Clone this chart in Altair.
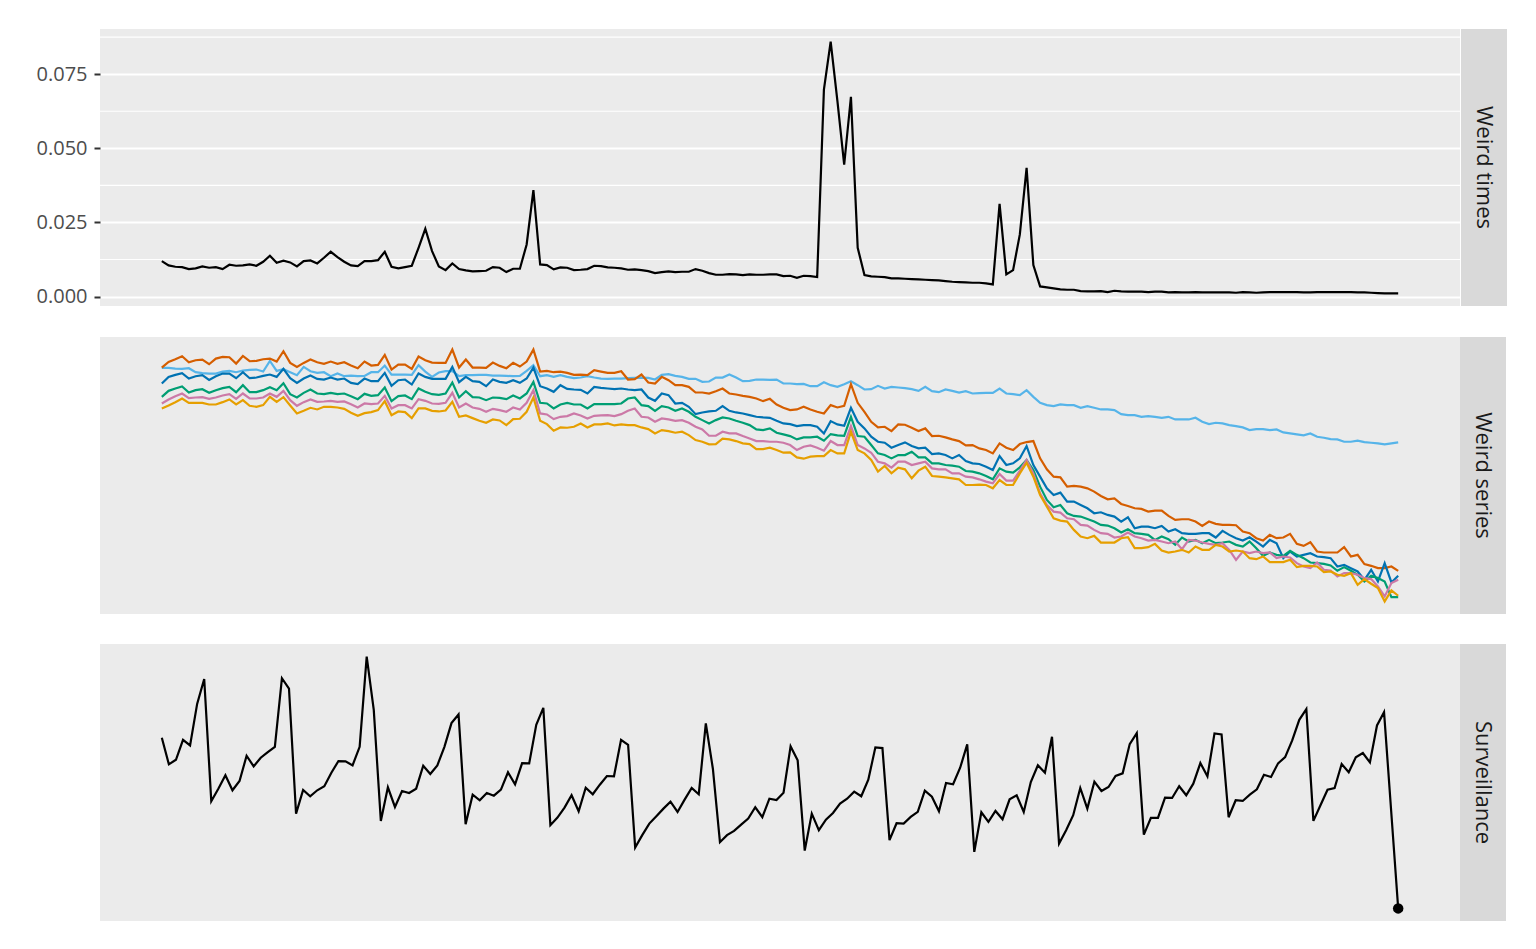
import altair as alt
import pandas as pd

panel_labels = ["Weird times", "Weird series", "Surveillance"]

# ---- Panel 1: weird times (184 points) ----
weird_times = [
    0.01197, 0.01051, 0.01006, 0.00995, 0.00927, 0.00950, 0.01017, 0.00972, 0.00995, 0.00927,
    0.01073, 0.01040, 0.01051, 0.01084, 0.01040, 0.01174, 0.01376, 0.01141, 0.01208, 0.01152,
    0.01017, 0.01197, 0.01219, 0.01118, 0.01309, 0.01511, 0.01331, 0.01174, 0.01051, 0.01028,
    0.01197, 0.01197, 0.01230, 0.01511, 0.01006, 0.00950, 0.00995, 0.01040, 0.01646, 0.02286,
    0.01534, 0.01017, 0.00893, 0.01118, 0.00927, 0.00882, 0.00849, 0.00860, 0.00871, 0.00995,
    0.00972, 0.00826, 0.00938, 0.00938, 0.01758, 0.03589, 0.01084, 0.01062, 0.00916, 0.00983,
    0.00972, 0.00893, 0.00905,
    0.00927, 0.01040, 0.01028, 0.00983, 0.00972, 0.00950, 0.00905, 0.00916, 0.00893, 0.00860,
    0.00792, 0.00826, 0.00849, 0.00826, 0.00837, 0.00837, 0.00927, 0.00871, 0.00792, 0.00736,
    0.00736, 0.00759, 0.00747, 0.00725, 0.00747, 0.00736, 0.00736, 0.00747, 0.00747, 0.00691,
    0.00703, 0.00635, 0.00703, 0.00691, 0.00658, 0.06980, 0.08600, 0.06590, 0.04450, 0.06740,
    0.01646, 0.00725, 0.00680, 0.00669, 0.00658, 0.00613, 0.00613, 0.00601, 0.00590, 0.00579,
    0.00568, 0.00557, 0.00545, 0.00523, 0.00500, 0.00489, 0.00478, 0.00467, 0.00467, 0.00444,
    0.00411, 0.03128,
    0.00747, 0.00893, 0.02095, 0.04341, 0.01062, 0.00343, 0.00310, 0.00276, 0.00242, 0.00231,
    0.00231, 0.00186, 0.00175, 0.00175, 0.00186, 0.00152, 0.00197, 0.00175, 0.00164, 0.00164,
    0.00164, 0.00152, 0.00164, 0.00164, 0.00141, 0.00152, 0.00141, 0.00141, 0.00152, 0.00141,
    0.00141, 0.00141, 0.00141, 0.00141, 0.00130, 0.00152, 0.00141, 0.00130, 0.00141, 0.00152,
    0.00152, 0.00152, 0.00152, 0.00152, 0.00141, 0.00141, 0.00152, 0.00152, 0.00152, 0.00152,
    0.00152, 0.00152, 0.00141, 0.00141, 0.00130, 0.00119, 0.00107, 0.00107, 0.00107,
]
weird_times_ticks = [0.0, 0.025, 0.05, 0.075]
weird_times_minor = [0.0125, 0.0375, 0.0625, 0.0875]

# ---- Panel 2: weird series (6 series x 184 points) ----
series_names = ["Series 1", "Series 2", "Series 3", "Series 4", "Series 5", "Series 6"]
series_colors = ["#56B4E9", "#D55E00", "#0072B2", "#009E73", "#CC79A7", "#E69F00"]

s_sky = [
    747, 747, 745, 744, 746, 734, 731, 730, 730, 736, 738, 734, 739, 741, 742, 736, 768, 738, 743, 734,
    725, 750, 737, 732, 734, 722, 730, 722, 724, 722, 723, 734, 734, 754, 727, 727, 727, 726, 755, 736,
    720, 733, 737, 737, 722, 725, 725, 726, 726, 724, 724, 723, 722, 723, 738, 755, 722, 725, 720, 725,
    720, 716, 718,
    722, 718, 715, 714, 715, 715, 716, 717, 718, 717, 712, 726, 728, 723, 720, 714, 714, 705, 706, 718,
    718, 727, 718, 707, 708, 712, 712, 711, 712, 700, 700, 698, 699, 692, 692, 704, 695, 690, 698, 707,
    695, 682, 683, 693, 685, 690, 688, 686, 683, 678, 690, 677, 674, 682, 678, 673, 677, 670, 671, 672,
    672, 685,
    670, 668, 665, 680, 660, 642, 635, 632, 637, 635, 635, 627, 632, 627, 622, 622, 620, 608, 605, 605,
    600, 602, 600, 597, 600, 592, 592, 592, 597, 585, 578, 582, 580, 575, 572, 568, 560, 563, 563, 560,
    562, 553, 550, 547, 544, 550, 540, 537, 533, 532, 525, 525, 528, 524, 522, 520, 517, 520, 523,
]
s_orange = [
    748, 765, 773, 782, 764, 770, 772, 758, 775, 780, 779, 760, 783, 767, 768, 773, 775, 766, 797, 762,
    750, 762, 772, 764, 759, 766, 759, 764, 754, 746, 766, 754, 756, 786, 742, 757, 757, 744, 781, 770,
    763, 762, 762, 802, 748, 772, 748, 748, 747, 763, 753, 746, 762, 751, 766, 802, 736, 738, 734, 736,
    732, 726, 727,
    725, 740, 736, 732, 732, 737, 712, 713, 727, 703, 700, 720, 710, 695, 695, 690, 673, 673, 670, 677,
    685, 670, 667, 663, 660, 655, 647, 654, 637, 627, 620, 622, 630, 622, 615, 610, 635, 628, 633, 698,
    642, 615, 585, 568, 570, 557, 577, 576, 567, 557, 565, 542, 543, 538, 532, 527, 514, 515, 505, 500,
    490, 520,
    507, 500, 518, 524, 527, 475, 442, 420, 418, 390, 392, 390, 385, 375, 362, 352, 355, 338, 332, 325,
    323, 315, 318, 318, 302, 290, 292, 292, 285, 272, 285, 278, 275, 275, 274, 255, 250, 235, 228, 245,
    235, 237, 248, 218, 212, 223, 195, 192, 192, 192, 208, 180, 185, 157, 152, 145, 145, 150, 137,
]
s_blue = [
    700, 720, 726, 731, 715, 722, 725, 711, 722, 730, 730, 716, 734, 716, 718, 723, 727, 720, 744, 716,
    702, 715, 724, 714, 712, 718, 712, 715, 702, 698, 715, 707, 707, 732, 693, 710, 712, 697, 730, 720,
    714, 714, 714, 750, 704, 720, 707, 705, 692, 712, 705, 702, 710, 702, 715, 748, 692, 685, 675, 695,
    684, 682, 681,
    670, 690, 687, 685, 683, 685, 682, 680, 682, 658, 648, 670, 665, 640, 642, 630, 608, 613, 616, 618,
    632, 618, 613, 610, 605, 600, 598, 597, 588, 580, 578, 572, 575, 575, 570, 550, 587, 577, 573, 627,
    585, 565, 540, 525, 522, 507, 515, 523, 512, 505, 507, 488, 490, 485, 475, 485, 467, 460, 458, 450,
    440, 482,
    455, 460, 475, 512, 455, 420, 385, 365, 372, 345, 345, 335, 325, 310, 313, 305, 300, 285, 298, 265,
    270, 270, 265, 272, 255, 262, 250, 248, 248, 250, 250, 237, 257, 245, 235, 228, 238, 225, 210, 230,
    220, 175, 195, 180, 185, 190, 180, 178, 175, 150, 155, 145, 135, 110, 140, 105, 160, 102, 122,
]
s_green = [
    660, 678, 685, 691, 673, 680, 683, 672, 680, 686, 690, 674, 695, 674, 674, 680, 689, 680, 701, 668,
    658, 672, 682, 670, 668, 672, 668, 670, 662, 653, 669, 663, 665, 688, 647, 662, 664, 653, 685, 675,
    668, 666, 670, 703, 658, 677, 659, 658, 650, 658, 657, 653, 664, 655, 670, 705, 642, 640, 625, 637,
    642, 637, 637,
    625, 638, 638, 638, 638, 640, 655, 658, 635, 632, 618, 632, 628, 618, 625, 615, 600, 590, 580, 590,
    598, 595, 588, 582, 575, 562, 560, 565, 552, 547, 542, 532, 538, 538, 540, 528, 548, 544, 543, 600,
    542, 540, 515, 490, 485, 475, 485, 485, 495, 478, 478, 460, 460, 455, 453, 450, 437, 435, 430, 422,
    412, 445,
    435, 432, 448, 470, 440, 390, 350, 328, 335, 310, 302, 300, 293, 285, 275, 273, 265, 252, 262, 250,
    248, 245, 230, 240, 232, 215, 237, 225, 230, 220, 230, 220, 222, 225, 215, 210, 225, 205, 182, 192,
    185, 182, 197, 185, 175, 162, 160, 158, 153, 137, 148, 137, 125, 105, 122, 115, 105, 58, 58,
]
s_pink = [
    640, 652, 662, 670, 656, 658, 659, 654, 658, 664, 668, 654, 670, 655, 655, 658, 670, 660, 678, 650,
    633, 644, 652, 645, 646, 648, 645, 646, 638, 628, 640, 638, 640, 663, 625, 635, 635, 625, 653, 648,
    640, 639, 642, 672, 628, 640, 628, 624, 615, 624, 620, 615, 628, 622, 642, 680, 610, 607, 593, 600,
    602, 610, 604,
    595, 603, 604, 605, 602, 608, 618, 625, 600, 598, 585, 595, 592, 588, 590, 582, 570, 562, 543, 543,
    555, 550, 550, 542, 535, 527, 527, 525, 525, 522, 515, 500, 510, 514, 507, 498, 527, 515, 515, 572,
    515, 505, 492, 465, 460, 447, 465, 465, 455, 460, 465, 445, 442, 442, 430, 430, 420, 418, 412, 405,
    400, 428,
    408, 408, 438, 470, 430, 370, 335, 315, 312, 295, 292, 275, 273, 260, 250, 248, 237, 240, 252, 240,
    235, 228, 230, 225, 220, 225, 202, 230, 228, 222, 218, 215, 220, 200, 170, 195, 190, 195, 190, 192,
    175, 180, 177, 160, 150, 145, 162, 140, 138, 120, 130, 130, 125, 115, 112, 90, 60, 100, 110,
]
s_yellow = [
    625, 634, 644, 655, 642, 642, 642, 637, 637, 644, 652, 637, 650, 633, 630, 635, 660, 645, 659, 634,
    610, 618, 627, 622, 630, 630, 628, 624, 612, 603, 611, 614, 620, 647, 605, 616, 614, 596, 625, 625,
    618, 616, 619, 645, 600, 604, 596, 588, 582, 592, 589, 575, 593, 594, 615, 658, 588, 578, 558, 568,
    567, 570, 580,
    568, 577, 577, 580, 574, 577, 575, 575, 568, 563, 550, 560, 557, 552, 555, 545, 530, 525, 517, 518,
    534, 532, 527, 520, 518, 503, 503, 507, 500, 492, 493, 478, 474, 480, 482, 482, 500, 490, 490, 555,
    500, 490, 470, 435, 452, 430, 447, 442, 415, 438, 450, 422, 420, 418, 415, 412, 395, 395, 396, 395,
    385, 410,
    395, 395, 430, 462, 420, 365, 330, 295, 288, 285, 260, 240, 235, 242, 222, 222, 222, 235, 238, 205,
    205, 208, 218, 198, 192, 195, 200, 192, 210, 200, 200, 215, 210, 195, 198, 195, 175, 172, 180, 163,
    163, 163, 170, 148, 152, 152, 150, 133, 135, 125, 122, 130, 95, 112, 98, 85, 45, 78, 62,
]
series_values = [s_sky, s_orange, s_blue, s_green, s_pink, s_yellow]

# ---- Panel 3: surveillance (176 points) ----
surveillance = [
    182.3, 155.7, 160.3, 180.3, 174.7, 216.3, 241.3, 118.7, 131.3, 144.7,
    129.7, 139.0, 164.3, 153.7, 162.3, 168.0, 173.3, 242.0, 231.7, 106.3,
    130.0, 123.7, 129.7, 133.7, 147.3, 159.0, 158.7, 154.7, 173.3, 263.7,
    210.3, 99.0, 132.7, 113.0, 129.0, 127.0, 131.3, 154.3, 146.0, 154.7,
    173.3, 197.0, 205.7, 95.7, 125.3, 119.7, 127.0, 124.3, 130.3, 147.7,
    135.7, 157.0, 156.7, 195.3, 212.3, 94.7, 102.3, 112.3, 124.7, 108.7,
    132.3, 125.7, 135.3, 144.0, 143.7, 180.3, 175.3, 72.3, 84.7, 96.3,
    103.7, 111.3, 118.3, 108.0, 120.3, 132.0, 125.7, 196.7, 151.3, 77.7,
    84.7, 89.0, 95.3, 101.3, 112.7, 102.7, 121.3, 120.0, 127.3, 173.7,
    159.7, 69.3, 106.3, 89.7, 100.3, 107.0, 116.3, 121.3, 128.3, 123.7,
    140.3, 172.7, 172.0, 79.7, 96.7, 96.3, 103.0, 108.0, 129.3, 123.3,
    108.7, 137.0, 135.7, 152.3, 175.7, 68.0, 107.7, 98.0, 109.0, 100.7,
    120.7, 124.7, 108.0, 138.0, 154.7, 147.3, 183.3, 76.3, 89.7, 104.7,
    132.0, 111.3, 138.3, 129.0, 133.0, 144.0, 146.7, 176.0, 187.0, 85.3,
    102.0, 102.0, 122.3, 122.0, 133.7, 124.7, 136.3, 157.0, 143.7, 186.7,
    185.7, 102.7, 119.7, 119.0, 125.3, 130.7, 145.3, 143.0, 156.7, 163.0,
    179.7, 200.3, 211.0, 99.0, 114.7, 130.3, 132.0, 156.0, 147.7, 162.7,
    167.0, 157.7, 194.7, 208.0, 109.7, 11.3,
]

assert len(weird_times) == 184, len(weird_times)
for nm, sv in zip(series_names, series_values):
    assert len(sv) == 184, (nm, len(sv))
assert len(surveillance) == 176, len(surveillance)

# ---- layout / style ----
W, H, STRIP = 1360, 277, 46
FONT = "Open Sans"
PANEL_BG = "#EBEBEB"
STRIP_BG = "#D9D9D9"
AX_EXT = 87
LW = 2.2


def expand(vals, mult=0.05):
    lo, hi = min(vals), max(vals)
    pad = (hi - lo) * mult
    return [lo - pad, hi + pad]


blank_y_axis = alt.Axis(labels=False, ticks=False, domain=False, grid=False,
                        title=None, minExtent=AX_EXT, maxExtent=AX_EXT)


def strip(label):
    return alt.Chart(pd.DataFrame({"label": [label]})).mark_text(
        angle=90, font=FONT, fontSize=22, color="#1A1A1A", align="center", baseline="middle"
    ).encode(
        text="label:N", x=alt.value(STRIP / 2), y=alt.value(H / 2)
    ).properties(width=STRIP, height=H,
                 view=alt.ViewBackground(fill=STRIP_BG, strokeWidth=0))


# Panel 1
df1 = pd.DataFrame({"t": list(range(len(weird_times))), "value": weird_times})
dfm = pd.DataFrame({"value": weird_times_minor})
xs1 = alt.Scale(domain=expand(df1["t"].tolist()), nice=False, zero=False)
ys1 = alt.Scale(domain=expand(weird_times), nice=False, zero=False)
yaxis1 = alt.Axis(values=weird_times_ticks, format=".3f", grid=True, gridColor="white",
                  gridWidth=2.2, domain=False, tickColor="#333333", tickWidth=2, tickSize=6,
                  labelPadding=7, labelFont=FONT, labelFontSize=20, labelColor="#4D4D4D",
                  title=None, minExtent=AX_EXT, maxExtent=AX_EXT)
minor_rules = alt.Chart(dfm).mark_rule(color="white", strokeWidth=1.1).encode(
    y=alt.Y("value:Q", scale=ys1, axis=yaxis1))
line1 = alt.Chart(df1).mark_line(color="black", strokeWidth=LW).encode(
    x=alt.X("t:Q", scale=xs1, axis=None),
    y=alt.Y("value:Q", scale=ys1, axis=yaxis1))
p1 = alt.layer(minor_rules, line1).properties(width=W, height=H)

# Panel 2
rows = []
for order, (nm, sv) in enumerate(zip(series_names, series_values)):
    for i, v in enumerate(sv):
        rows.append({"t": i, "value": v, "series": nm, "order": order})
df2 = pd.DataFrame(rows)
all2 = [v for sv in series_values for v in sv]
xs2 = alt.Scale(domain=expand(list(range(184))), nice=False, zero=False)
ys2 = alt.Scale(domain=expand(all2), nice=False, zero=False)
p2 = alt.Chart(df2).mark_line(strokeWidth=LW).encode(
    x=alt.X("t:Q", scale=xs2, axis=None),
    y=alt.Y("value:Q", scale=ys2, axis=blank_y_axis),
    color=alt.Color("series:N", scale=alt.Scale(domain=series_names, range=series_colors),
                    legend=None),
    order=alt.Order("order:Q"),
).properties(width=W, height=H)

# Panel 3
df3 = pd.DataFrame({"t": list(range(len(surveillance))), "value": surveillance})
df3_last = df3.tail(1)
xs3 = alt.Scale(domain=expand(df3["t"].tolist()), nice=False, zero=False)
ys3 = alt.Scale(domain=expand(surveillance), nice=False, zero=False)
line3 = alt.Chart(df3).mark_line(color="black", strokeWidth=LW).encode(
    x=alt.X("t:Q", scale=xs3, axis=None),
    y=alt.Y("value:Q", scale=ys3, axis=blank_y_axis))
dot3 = alt.Chart(df3_last).mark_circle(color="black", opacity=1, size=110).encode(
    x=alt.X("t:Q", scale=xs3, axis=None),
    y=alt.Y("value:Q", scale=ys3, axis=blank_y_axis))
p3 = alt.layer(line3, dot3).properties(width=W, height=H)

row1 = alt.hconcat(p1, strip(panel_labels[0]), spacing=0)
row2 = alt.hconcat(p2, strip(panel_labels[1]), spacing=0)
row3 = alt.hconcat(p3, strip(panel_labels[2]), spacing=0)

chart = alt.vconcat(row1, row2, row3, spacing=30).properties(
    padding={"left": 5, "top": 21, "right": 5, "bottom": 5},
    background="white",
).configure_view(fill=PANEL_BG, strokeWidth=0)

chart.save("out.html", embed_options={"renderer": "svg", "actions": False})
